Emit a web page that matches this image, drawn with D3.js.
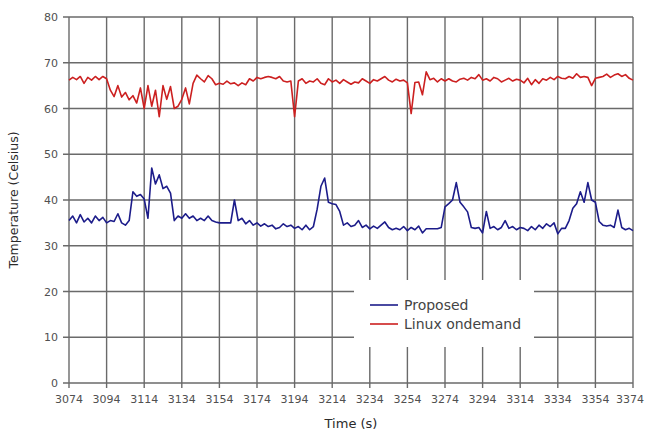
<!DOCTYPE html>
<html>
<head>
<meta charset="utf-8">
<script src="https://cdn.jsdelivr.net/npm/d3@7"></script>
<style>
  body { margin: 0; background: #fff; }
  svg { display: block; font-family: "DejaVu Sans", Verdana, sans-serif; }
</style>
</head>
<body>
<div id="chart"></div>
<script>
// sampled every 2 s from 3074 to 3374
const timeStart = 3074;
const timeStep = 2;

const proposed = [
  35.5, 36.5, 35, 36.8, 35.2, 36, 35, 36.5, 35.5, 36.2,
  35, 35.5, 35.3, 37, 35, 34.5, 35.5, 41.8, 40.8, 41.2,
  40.2, 36, 47, 43.5, 45.5, 42.5, 43, 41.5, 35.5, 36.5,
  36, 37, 36, 36.5, 35.5, 36, 35.5, 36.5, 35.5, 35.2,
  35, 35, 35, 35, 40, 35.5, 36, 34.8, 35.5, 34.5,
  35, 34.3, 34.8, 34.2, 34.5, 33.7, 34, 34.8, 34.2, 34.5,
  33.8, 34.2, 33.5, 34.5, 33.5, 34.2, 38, 43, 44.8, 39.5,
  39.2, 39, 37.5, 34.5, 35, 34.2, 34.5, 35.5, 34, 34.5,
  33.7, 34.3, 33.8, 34.5, 35.2, 34, 33.5, 33.8, 33.5, 34.2,
  33.3, 34, 33.5, 34.3, 32.8, 33.7, 33.7, 33.7, 33.7, 34,
  38.5, 39.2, 40, 43.8, 39.5, 38.5, 37.4, 34, 33.8, 34,
  32.8, 37.5, 33.8, 34.2, 33.5, 34, 35.5, 33.8, 34.2, 33.5,
  34, 33.8, 33.3, 34.2, 33.5, 34.5, 33.8, 34.8, 34.2, 35,
  32.6, 33.8, 33.8, 35.5, 38.2, 39.2, 41.8, 39.5, 43.8, 40,
  39.5, 35.3, 34.5, 34.3, 34.5, 34, 37.8, 34, 33.5, 33.8,
  33.3
];

const ondemand = [
  66.2, 66.8, 66.3, 67, 65.5, 66.8, 66.2, 67, 66.3, 67,
  66.5, 64, 62.6, 65, 62.5, 63.5, 61.9, 62.8, 61.2, 64.5,
  60, 65, 60.5, 64, 58.2, 65, 62, 64.8, 60, 60.5,
  62, 64.5, 61, 65.5, 67.3, 66.5, 65.8, 67.2, 66.5, 65.2,
  65.5, 65.3, 66, 65.4, 65.6, 65, 65.6, 65.2, 66.5, 66,
  66.8, 66.5, 66.8, 67, 66.8, 66.5, 67, 66, 65.8, 66,
  58.2, 66, 66.5, 65.5, 66, 65.8, 66.5, 65.5, 65.2, 66.5,
  65.8, 66.2, 65.5, 66.3, 65.8, 65.3, 65.8, 65.6, 66.5, 66,
  65.5, 66.3, 66, 66.5, 67, 66.2, 65.8, 66.4, 66, 66.2,
  65.6, 58.9, 65.7, 65.8, 63, 68, 66.3, 66.6, 65.8, 66.5,
  66, 66.5, 66, 65.8, 66.4, 66.6, 66.2, 66.8, 66.5, 67.4,
  66.2, 66.5, 66, 66.8, 66.5, 65.8, 66.2, 66.6, 66, 66.4,
  66.2, 65.6, 66.6, 65.2, 66.3, 65.5, 66.5, 66.2, 66.8, 66.3,
  67, 66.6, 66.5, 67, 66.6, 67.6, 66.8, 67, 66.8, 65,
  66.6, 66.8, 67, 67.5, 66.8, 67.3, 67.6, 67, 67.4, 66.6,
  66.2
];

const xTicks = [3074, 3094, 3114, 3134, 3154, 3174, 3194, 3214, 3234, 3254, 3274, 3294, 3314, 3334, 3354, 3374];
const yTicks = [0, 10, 20, 30, 40, 50, 60, 70, 80];
const seriesNames = ["Proposed", "Linux ondemand"];
const seriesColors = ["#1c1c8a", "#cc2020"];

const width = 645;
const height = 433;
const plotLeft = 69, plotRight = 633, plotTop = 17, plotBottom = 383;

const x = d3.scaleLinear().domain([3074, 3374]).range([plotLeft, plotRight]);
const y = d3.scaleLinear().domain([0, 80]).range([plotBottom, plotTop]);

const svg = d3.select("#chart").append("svg")
  .attr("width", width)
  .attr("height", height);

// grid
const grid = svg.append("g").attr("stroke", "#6a6a6a").attr("stroke-width", 1.4);
grid.selectAll(".vgrid").data(xTicks).enter().append("line")
  .attr("x1", d => x(d)).attr("x2", d => x(d))
  .attr("y1", plotTop).attr("y2", plotBottom + 5);
grid.selectAll(".hgrid").data(yTicks).enter().append("line")
  .attr("x1", plotLeft - 6).attr("x2", plotRight)
  .attr("y1", d => y(d)).attr("y2", d => y(d));

// tick labels (last one kept inside the window)
svg.append("g").selectAll("text").data(xTicks).enter().append("text")
  .attr("x", (d, i) => i === xTicks.length - 1 ? width - 1 : x(d))
  .attr("y", plotBottom + 20)
  .attr("text-anchor", (d, i) => i === xTicks.length - 1 ? "end" : "middle")
  .attr("font-size", 11).attr("fill", "#505050")
  .text(d => d);

svg.append("g").selectAll("text").data(yTicks).enter().append("text")
  .attr("x", plotLeft - 11).attr("y", d => y(d) + 4)
  .attr("text-anchor", "end")
  .attr("font-size", 11).attr("fill", "#505050")
  .text(d => d);

// axis titles
svg.append("text")
  .attr("x", (plotLeft + plotRight) / 2).attr("y", 428)
  .attr("text-anchor", "middle")
  .attr("font-size", 13).attr("fill", "#2a2a2a")
  .text("Time (s)");

svg.append("text")
  .attr("transform", `translate(18, ${(plotTop + plotBottom) / 2}) rotate(-90)`)
  .attr("text-anchor", "middle")
  .attr("font-size", 12.5).attr("fill", "#2a2a2a")
  .text("Temperature (Celsius)");

// legend box hides the grid behind it
svg.append("rect")
  .attr("x", 354).attr("y", 280)
  .attr("width", 180).attr("height", 67)
  .attr("fill", "#fff");

const legend = svg.append("g").selectAll("g").data(seriesNames).enter().append("g")
  .attr("transform", (d, i) => `translate(370, ${305 + i * 19})`);
legend.append("line")
  .attr("x1", 0).attr("x2", 28)
  .attr("stroke", (d, i) => seriesColors[i]).attr("stroke-width", 1.6);
legend.append("text")
  .attr("x", 34).attr("y", 5)
  .attr("font-size", 14).attr("fill", "#444")
  .text(d => d);

// series
const line = d3.line()
  .x((d, i) => x(timeStart + i * timeStep))
  .y(d => y(d));

[proposed, ondemand].forEach((values, i) => {
  svg.append("path")
    .datum(values)
    .attr("d", line)
    .attr("fill", "none")
    .attr("stroke", seriesColors[i])
    .attr("stroke-width", 1.6)
    .attr("stroke-linejoin", "round");
});
</script>
</body>
</html>
